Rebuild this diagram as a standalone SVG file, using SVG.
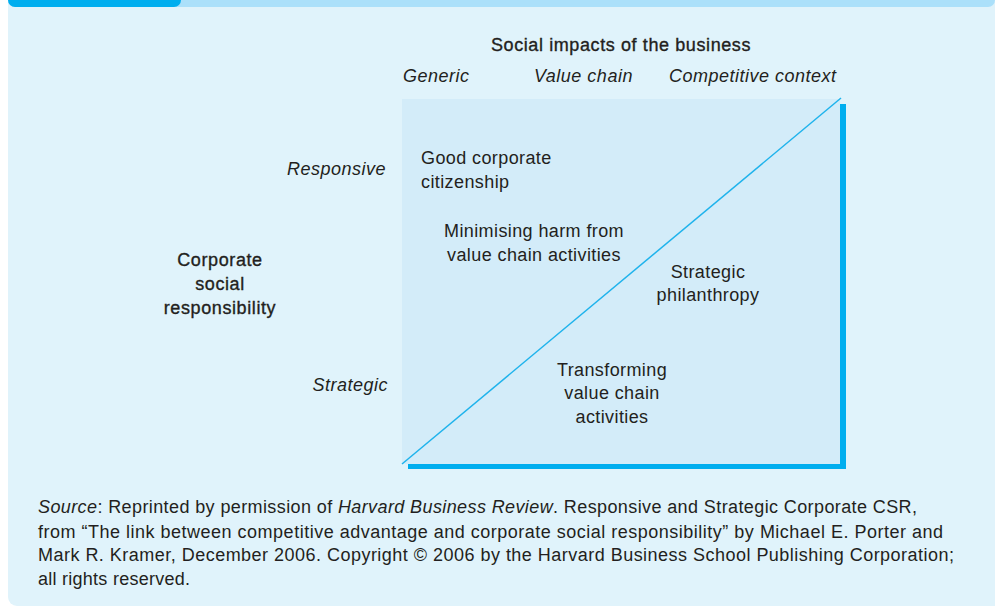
<svg xmlns="http://www.w3.org/2000/svg" width="995" height="611" viewBox="0 0 995 611">
  <style>
    .t { font-family: "Liberation Sans", Arial, sans-serif; fill: #231f20; }
    .lbl { font-size: 18px; letter-spacing: 0.4px; }
    .it { font-style: italic; font-size: 18px; letter-spacing: 0.5px; }
    .hd { font-size: 18px; letter-spacing: 0.6px; stroke: #231f20; stroke-width: 0.35px; }
    .cap { font-size: 18px; }
    .mid { text-anchor: middle; }
    .end { text-anchor: end; }
  </style>

  <!-- panel background -->
  <rect x="8" y="-20" width="1000" height="626" rx="9" fill="#e0f3fb"/>
  <!-- top band with tab -->
  <rect x="8" y="-20" width="987" height="27" rx="7" fill="#abe0fa"/>
  <rect x="8" y="-20" width="173" height="27" rx="7" fill="#00aeef"/>

  <!-- matrix -->
  <g id="matrix">
    <rect x="408" y="104" width="438" height="365" fill="#00aeef"/>
    <rect x="402" y="99" width="438" height="365" fill="#d3ecf9"/>
  </g>

  <g id="connectors">
    <line x1="402" y1="464" x2="841" y2="98" stroke="#1fb3ec" stroke-width="1.5"/>
  </g>

  <!-- axis headings -->
  <g id="x-axis">
    <text class="t hd mid" x="621" y="51">Social impacts of the business</text>
    <text class="t it" x="403" y="82">Generic</text>
    <text class="t it" x="534" y="82">Value chain</text>
    <text class="t it" x="669" y="82">Competitive context</text>
  </g>
  <g id="y-axis">
    <text class="t hd mid" x="220" y="266">Corporate</text>
    <text class="t hd mid" x="220" y="290">social</text>
    <text class="t hd mid" x="220" y="314">responsibility</text>
    <text class="t it end" x="386" y="175">Responsive</text>
    <text class="t it end" x="388" y="391">Strategic</text>
  </g>

  <!-- cells -->
  <g id="good-citizenship">
    <text class="t lbl" x="421" y="164">Good corporate</text>
    <text class="t lbl" x="421" y="188">citizenship</text>
  </g>
  <g id="minimising-harm">
    <text class="t lbl mid" x="534" y="237">Minimising harm from</text>
    <text class="t lbl mid" x="534" y="261">value chain activities</text>
  </g>
  <g id="strategic-philanthropy">
    <text class="t lbl mid" x="708" y="278">Strategic</text>
    <text class="t lbl mid" x="708" y="301">philanthropy</text>
  </g>
  <g id="transforming">
    <text class="t lbl mid" x="612" y="376">Transforming</text>
    <text class="t lbl mid" x="612" y="399">value chain</text>
    <text class="t lbl mid" x="612" y="423">activities</text>
  </g>

  <!-- source note -->
  <g id="source">
    <text class="t cap" x="38" y="513" textLength="879" lengthAdjust="spacing"><tspan font-style="italic">Source</tspan>: Reprinted by permission of <tspan font-style="italic">Harvard Business Review</tspan>. Responsive and Strategic Corporate CSR,</text>
    <text class="t cap" x="38" y="538" textLength="905" lengthAdjust="spacing">from “The link between competitive advantage and corporate social responsibility” by Michael E. Porter and</text>
    <text class="t cap" x="38" y="561" textLength="916" lengthAdjust="spacing">Mark R. Kramer, December 2006. Copyright © 2006 by the Harvard Business School Publishing Corporation;</text>
    <text class="t cap" x="38" y="585" textLength="152" lengthAdjust="spacing">all rights reserved.</text>
  </g>
</svg>
